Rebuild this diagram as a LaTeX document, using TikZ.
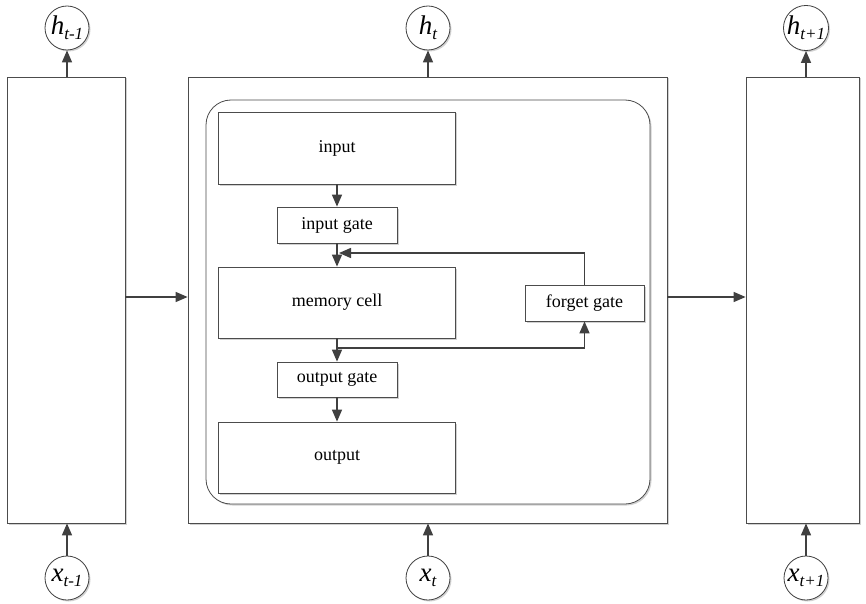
\documentclass[tikz,border=0pt]{standalone}
\usepackage{fontspec}
\setmainfont{Liberation Serif}
\usetikzlibrary{arrows.meta,shadows}
\newcommand\lsub[1]{\raisebox{-0.4ex}{\fontsize{17}{17}\selectfont #1}}
\tikzset{
  box/.style={rectangle, draw=black!70, line width=0.8pt, fill=white, inner sep=0pt,
    font=\fontsize{18}{20}\selectfont,
    drop shadow={shadow xshift=1.5pt, shadow yshift=-1.5pt, fill=black!18, opacity=1}},
  circ/.style={circle, draw=black!75, line width=0.8pt, fill=white, minimum size=44pt, inner sep=0pt,
    font=\fontsize{27}{28}\selectfont\itshape,
    drop shadow={shadow xshift=1.5pt, shadow yshift=-1.5pt, fill=black!18, opacity=1}},
  arr/.style={draw=black!75, line width=1.5pt, -{Triangle[length=12pt,width=10pt]}}
}
\begin{document}
\begin{tikzpicture}[x=1pt,y=-1pt]
\useasboundingbox (0,0) rectangle (866,604);
% big boxes
\node[box, minimum width=118, minimum height=446] (L) at (66,300) {};
\node[box, minimum width=479, minimum height=446] (M) at (427.5,300) {};
\node[box, minimum width=113, minimum height=446] (R) at (802.5,300) {};
\node[box, rounded corners=25pt, minimum width=444, minimum height=404] (I) at (428,302) {};
% circles
\node[circ] (hL) at (67,28) {h\lsub{t-1}};
\node[circ] (hM) at (428,28) {h\lsub{t}};
\node[circ] (hR) at (806,28) {h\lsub{t+1}};
\node[circ] (xL) at (67,578) {x\lsub{t-1}};
\node[circ] (xM) at (428,578) {x\lsub{t}};
\node[circ] (xR) at (806,578) {x\lsub{t+1}};
% inner boxes
\node[box, minimum width=237, minimum height=72] (in) at (337,148) {input};
\node[box, minimum width=120, minimum height=36] (ig) at (337,225) {input gate};
\node[box, minimum width=237, minimum height=71] (mc) at (337,302.5) {memory cell};
\node[box, minimum width=119, minimum height=36] (fg) at (584.5,303) {forget gate};
\node[box, minimum width=120, minimum height=35] (og) at (337,379.5) {output gate};
\node[box, minimum width=237, minimum height=71] (out) at (337,457.5) {output};
\coordinate (fj) at (339,253);
\coordinate (mj) at (337,348);
% connectors
\draw[arr] (hL |- L.north) -- (hL);
\draw[arr] (hM |- M.north) -- (hM);
\draw[arr] (hR |- R.north) -- (hR);
\draw[arr] (xL) -- (xL |- L.south);
\draw[arr] (xM) -- (xM |- M.south);
\draw[arr] (xR) -- (xR |- R.south);
\draw[arr] (L.east |- 0,297) -- (M.west |- 0,297);
\draw[arr] (M.east |- 0,297) -- (R.west |- 0,297);
\draw[arr] (in) -- (ig);
\draw[arr] (ig) -- (mc);
\draw[arr] (mc) -- (og);
\draw[arr] (og) -- (out);
\draw[arr] (fg.north) |- (fj);
\draw[arr] (mj) -| (fg.south);
\end{tikzpicture}
\end{document}
